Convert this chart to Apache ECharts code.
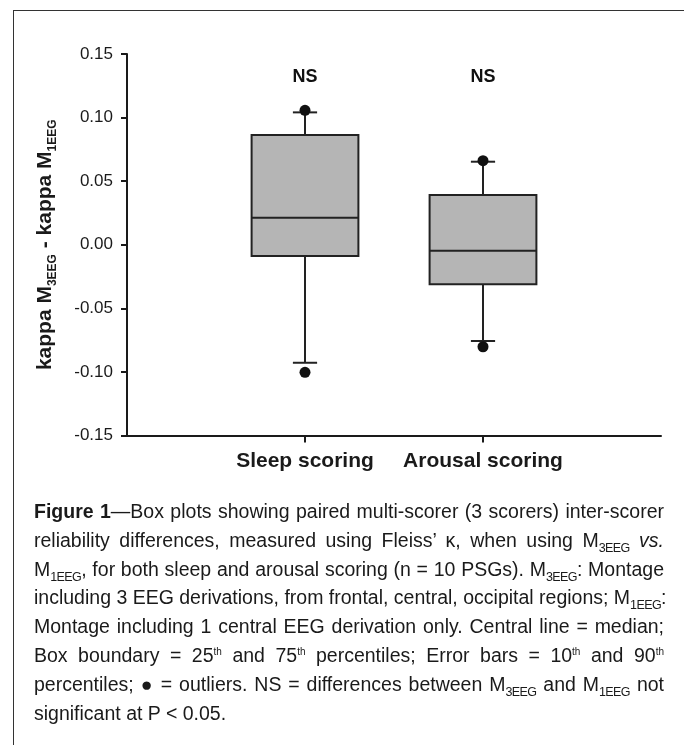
<!DOCTYPE html>
<html>
	<head>
		<meta charset="utf-8" />
		<title>Figure 1</title>
		<script src="https://cdn.jsdelivr.net/npm/echarts@6/dist/echarts.min.js"></script>
		<style>
		body {
			margin: 0;
			background: #fff;
		}
		.wrap {
			position: relative;
			width: 684px;
			height: 745px;
			overflow: hidden;
		}
		.frame {
			position: absolute;
			left: 13px;
			top: 10px;
			width: 700px;
			height: 800px;
			border-left: 1px solid #333;
			border-top: 1px solid #333;
		}
		#boxChart {
			position: absolute;
			left: 0;
			top: 0;
			width: 684px;
			height: 745px;
		}
		.caption {
			position: absolute;
			left: 34px;
			top: 497px;
			width: 630px;
			font-family: 'Liberation Sans', Arial, sans-serif;
			font-size: 19.5px;
			color: #1a1a1a;
		}
		.caption div {
			height: 28.8px;
			line-height: 28.8px;
			text-align: justify;
			text-align-last: justify;
			white-space: nowrap;
		}
		.caption div.last {
			text-align-last: left;
		}
		.caption sub {
			font-size: 12.5px;
			vertical-align: -5px;
			line-height: 0;
			letter-spacing: -0.6px;
		}
		.caption sup {
			font-size: 10px;
			vertical-align: 7px;
			line-height: 0;
		}
		</style>
	</head>
	<body>
		<div class="wrap">
			<div class="frame"></div>
			<div id="boxChart"></div>
			<!-- 图注 -->
			<div class="caption">
				<div><b>Figure 1</b>—Box plots showing paired multi-scorer (3 scorers) inter-scorer</div>
				<div>reliability differences, measured using Fleiss’ κ, when using M<sub>3EEG</sub> <i>vs.</i></div>
				<div>M<sub>1EEG</sub>, for both sleep and arousal scoring (n = 10 PSGs). M<sub>3EEG</sub>: Montage</div>
				<div>including 3 EEG derivations, from frontal, central, occipital regions; M<sub>1EEG</sub>:</div>
				<div>Montage including 1 central EEG derivation only. Central line = median;</div>
				<div>Box boundary = 25<sup>th</sup> and 75<sup>th</sup> percentiles; Error bars = 10<sup>th</sup> and 90<sup>th</sup></div>
				<div>percentiles; ● = outliers. NS = differences between M<sub>3EEG</sub> and M<sub>1EEG</sub> not</div>
				<div class="last">significant at P &lt; 0.05.</div>
			</div>
		</div>
		<script>
			// x轴类别 (两端留空)
			var categories = ['', 'Sleep scoring', 'Arousal scoring', ''];
			var boxIndex = [1, 2];
			// 箱线图数值
			var whiskerLow = [-0.0928, -0.0757];
			var q1 = [-0.0089, -0.0311];
			var median = [0.0213, -0.0047];
			var q3 = [0.0863, 0.0391];
			var whiskerHigh = [0.1041, 0.0653];
			// 离群点
			var outlierIndex = [1, 1, 2, 2];
			var outlierValue = [0.1057, -0.1003, 0.0661, -0.0802];
			// 显著性标注
			var nsLabels = ['NS', 'NS'];
			var nsValue = [0.1315, 0.1315];
			// y轴刻度
			var yTicks = [-0.15, -0.10, -0.05, 0.00, 0.05, 0.10, 0.15];

			var font = "'Liberation Sans', Arial, sans-serif";
			var ink = '#1a1a1a';

			var boxData = boxIndex.map(function(c, i) {
				return [c, whiskerLow[i], q1[i], median[i], q3[i], whiskerHigh[i]];
			});
			var outlierData = outlierIndex.map(function(c, i) {
				return [c, outlierValue[i]];
			});
			var nsData = boxIndex.map(function(c, i) {
				return [c, nsValue[i]];
			});

			function renderBox(params, api) {
				var x = api.value(0);
				var lo = api.coord([x, api.value(1)]);
				var b1 = api.coord([x, api.value(2)]);
				var md = api.coord([x, api.value(3)]);
				var b3 = api.coord([x, api.value(4)]);
				var hi = api.coord([x, api.value(5)]);
				var band = api.coord([1, 0])[0] - api.coord([0, 0])[0];
				var half = band * 0.3;
				var cap = band * 0.068;
				var line = {
					stroke: '#222',
					lineWidth: 2
				};
				var cx = md[0];
				return {
					type: 'group',
					children: [{
						type: 'line',
						shape: { x1: cx, y1: b3[1], x2: cx, y2: hi[1] },
						style: line
					}, {
						type: 'line',
						shape: { x1: cx - cap, y1: hi[1], x2: cx + cap, y2: hi[1] },
						style: line
					}, {
						type: 'line',
						shape: { x1: cx, y1: b1[1], x2: cx, y2: lo[1] },
						style: line
					}, {
						type: 'line',
						shape: { x1: cx - cap, y1: lo[1], x2: cx + cap, y2: lo[1] },
						style: line
					}, {
						type: 'rect',
						shape: { x: cx - half, y: b3[1], width: half * 2, height: b1[1] - b3[1] },
						style: { fill: '#b5b5b5', stroke: '#222', lineWidth: 2 }
					}, {
						type: 'line',
						shape: { x1: cx - half, y1: md[1], x2: cx + half, y2: md[1] },
						style: line
					}]
				};
			}

			var boxChart = echarts.init(document.getElementById('boxChart'));
			var option = {
				animation: false,
				grid: {
					left: 127,
					right: 23,
					top: 54,
					bottom: 309.5
				},
				xAxis: {
					type: 'category',
					data: categories,
					boundaryGap: false,
					axisLine: {
						onZero: false,
						lineStyle: { color: ink, width: 2 }
					},
					axisTick: {
						length: 7,
						interval: function(i) {
							return i === 1 || i === 2;
						},
						lineStyle: { color: ink, width: 2 }
					},
					axisLabel: {
						interval: 0,
						margin: 15,
						color: ink,
						fontFamily: font,
						fontSize: 21,
						fontWeight: 'bold'
					},
					splitLine: { show: false }
				},
				yAxis: {
					type: 'value',
					min: yTicks[0],
					max: yTicks[yTicks.length - 1],
					interval: 0.05,
					name: '{m|kappa M}{s|3EEG}{m| - kappa M}{s|1EEG}',
					nameLocation: 'middle',
					nameRotate: 90,
					nameGap: 68,
					nameTextStyle: {
						rich: {
							m: {
								fontFamily: font,
								fontSize: 21,
								fontWeight: 'bold',
								color: ink,
								lineHeight: 24,
								verticalAlign: 'top'
							},
							s: {
								fontFamily: font,
								fontSize: 12,
								fontWeight: 'bold',
								color: ink,
								lineHeight: 24,
								verticalAlign: 'bottom'
							}
						}
					},
					axisLine: {
						show: true,
						lineStyle: { color: ink, width: 2 }
					},
					axisTick: {
						show: true,
						length: 6,
						lineStyle: { color: ink, width: 2 }
					},
					axisLabel: {
						margin: 14,
						color: ink,
						fontFamily: font,
						fontSize: 17,
						formatter: function(v) {
							return v.toFixed(2);
						}
					},
					splitLine: { show: false }
				},
				series: [{
					name: 'box',
					type: 'custom',
					renderItem: renderBox,
					data: boxData,
					z: 2
				}, {
					name: 'outliers',
					type: 'scatter',
					data: outlierData,
					symbolSize: 11,
					itemStyle: { color: '#111', opacity: 1 },
					z: 3
				}, {
					name: 'ns',
					type: 'scatter',
					data: nsData,
					symbolSize: 0,
					itemStyle: { opacity: 1 },
					label: {
						show: true,
						position: 'inside',
						color: '#111',
						fontFamily: font,
						fontSize: 18,
						fontWeight: 'bold',
						formatter: function(p) {
							return nsLabels[p.dataIndex];
						}
					}
				}]
			};
			boxChart.setOption(option);
		</script>
	</body>
</html>
